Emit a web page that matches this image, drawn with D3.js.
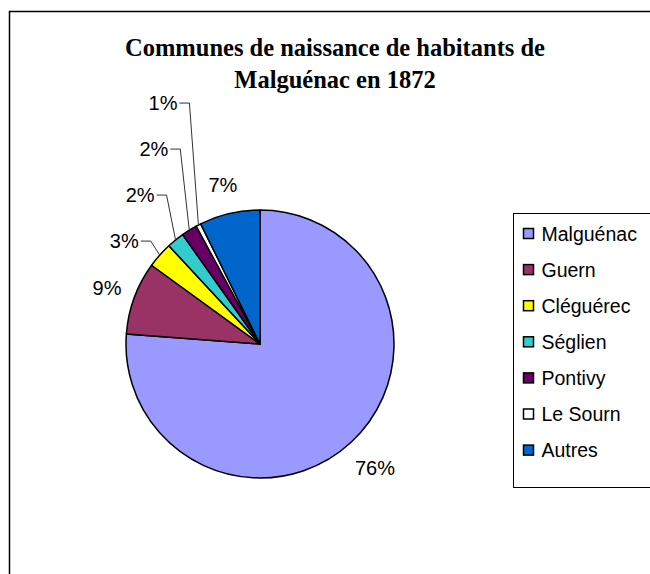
<!DOCTYPE html>
<html>
<head>
<meta charset="utf-8">
<script src="https://cdn.jsdelivr.net/npm/d3@7"></script>
<style>
  body { margin: 0; background: #fff; }
  svg { display: block; }
</style>
</head>
<body>
<svg width="650" height="574"></svg>
<script>
// Data
var communes = ["Malguénac", "Guern", "Cléguérec", "Séglien", "Pontivy", "Le Sourn", "Autres"];
var shares = [76.2, 8.8, 3.1, 2.1, 1.9, 0.6, 7.3];
var labels = ["76%", "9%", "3%", "2%", "2%", "1%", "7%"];
var colors = ["#9999ff", "#993366", "#ffff00", "#33cccc", "#660066", "#ffffff", "#0066cc"];
var titleLines = ["Communes de naissance de habitants de", "Malguénac en 1872"];

var svg = d3.select("svg");

// outer frame (runs off the right / bottom edges)
svg.append("rect")
  .attr("x", 9.5).attr("y", 11.5)
  .attr("width", 700).attr("height", 600)
  .attr("fill", "none")
  .attr("stroke", "#000")
  .attr("stroke-width", 1.5);

// Title
svg.append("g")
  .selectAll("text")
  .data(titleLines)
  .enter()
  .append("text")
    .attr("x", 335)
    .attr("y", function (d, i) { return 56 + i * 32; })
    .attr("text-anchor", "middle")
    .attr("font-family", "'Liberation Serif', 'Times New Roman', serif")
    .attr("font-weight", "bold")
    .attr("font-size", 24.5)
    .text(function (d) { return d; });

// Pie
var cx = 260, cy = 344, r = 134;
var pie = d3.pie().sort(null).value(function (d) { return d; });
var arcs = pie(shares);
var arc = d3.arc().innerRadius(0).outerRadius(r);

var g = svg.append("g").attr("transform", "translate(" + cx + "," + cy + ")");

g.selectAll("path")
  .data(arcs)
  .enter()
  .append("path")
    .attr("d", arc)
    .attr("fill", function (d, i) { return colors[i]; })
    .attr("stroke", "#000")
    .attr("stroke-width", 1.5)
    .attr("stroke-linejoin", "round");

// labels: big slices outside, small slices stacked with leader lines
var labelFont = "'Liberation Sans', Arial, sans-serif";
var k = 0, firstY = null;
arcs.forEach(function (d, i) {
  var a = (d.startAngle + d.endAngle) / 2;
  if (shares[i] >= 4) {
    var R = shares[i] > 50 ? 169 : 163;
    g.append("text")
      .attr("x", R * Math.sin(a))
      .attr("y", -R * Math.cos(a))
      .attr("dy", "0.35em")
      .attr("text-anchor", "middle")
      .attr("font-family", labelFont)
      .attr("font-size", 20)
      .attr("fill", "#000")
      .text(labels[i]);
  } else {
    var px = r * Math.sin(a), py = -r * Math.cos(a);
    if (firstY === null) firstY = py - 14;
    var ey = firstY - k * 46, ex = px - 9;
    k++;
    g.append("polyline")
      .attr("points", [[px, py], [ex, ey], [ex - 10, ey]].map(function (p) { return p.join(","); }).join(" "))
      .attr("fill", "none")
      .attr("stroke", "#333")
      .attr("stroke-width", 1);
    g.append("text")
      .attr("x", ex - 12)
      .attr("y", ey)
      .attr("dy", "0.35em")
      .attr("text-anchor", "end")
      .attr("font-family", labelFont)
      .attr("font-size", 20)
      .attr("fill", "#000")
      .text(labels[i]);
  }
});

// Legend
var legend = svg.append("g").attr("transform", "translate(513.5,213.5)");
legend.append("rect")
  .attr("width", 200).attr("height", 274)
  .attr("fill", "#fff")
  .attr("stroke", "#000")
  .attr("stroke-width", 1);

var item = legend.selectAll("g.item")
  .data(communes)
  .enter()
  .append("g")
    .attr("class", "item")
    .attr("transform", function (d, i) { return "translate(10," + (20 + i * 36.1) + ")"; });

item.append("rect")
  .attr("x", 0).attr("y", -5)
  .attr("width", 10).attr("height", 10)
  .attr("fill", function (d, i) { return colors[i]; })
  .attr("stroke", "#000")
  .attr("stroke-width", 1.5);

item.append("text")
  .attr("x", 18)
  .attr("dy", "0.36em")
  .attr("font-family", labelFont)
  .attr("font-size", 19.5)
  .text(function (d) { return d; });
</script>
</body>
</html>
